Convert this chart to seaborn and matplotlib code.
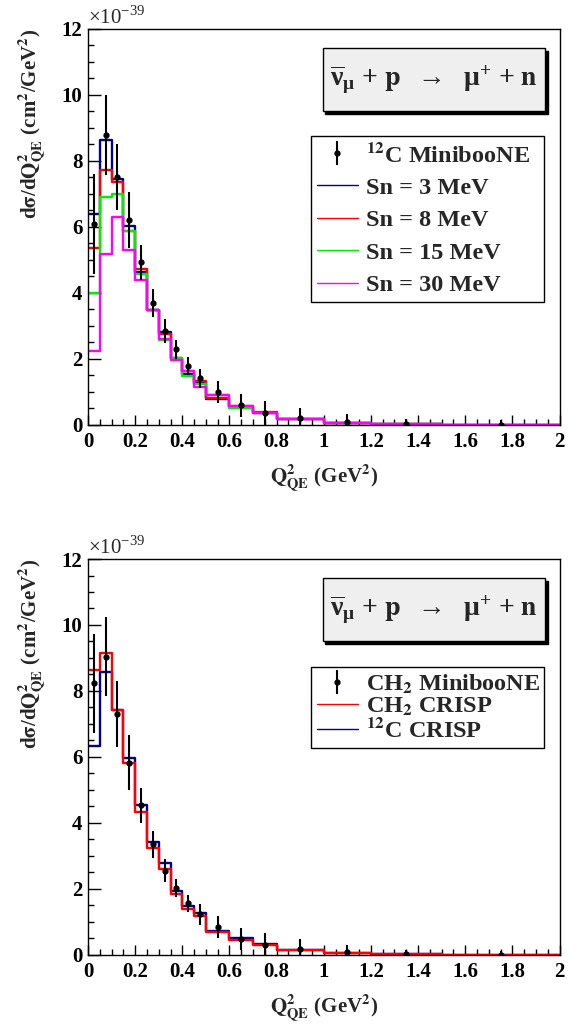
import numpy as np
import pandas as pd
import seaborn as sns
import matplotlib.pyplot as plt
from matplotlib.ticker import MultipleLocator, FuncFormatter
from matplotlib.patches import Rectangle

# bin edges of Q2_QE (GeV^2)
edges = [0, 0.05, 0.10, 0.15, 0.20, 0.25, 0.30, 0.35, 0.40, 0.45, 0.50,
         0.60, 0.70, 0.80, 1.00, 1.20, 1.50, 2.00]

# top panel: 12C MiniBooNE data (x1e-39 cm2/GeV2)
c12_data = [6.09, 8.79, 7.50, 6.21, 4.93, 3.70, 2.84, 2.29, 1.79, 1.41,
            0.99, 0.59, 0.37, 0.20, 0.08, 0.02, 0.01]
c12_err = [1.52, 1.20, 1.00, 0.84, 0.53, 0.42, 0.36, 0.28, 0.27, 0.30,
           0.33, 0.35, 0.36, 0.30, 0.25, 0.16, 0.14]

# CRISP for different separation energies
sn3 = [6.39, 8.63, 7.45, 6.04, 4.65, 3.48, 2.83, 2.02, 1.54, 1.28,
       0.78, 0.54, 0.37, 0.18, 0.07, 0.02, 0.005]
sn8 = [5.37, 7.73, 7.35, 5.89, 4.72, 3.48, 2.76, 1.99, 1.65, 1.33,
       0.81, 0.56, 0.38, 0.18, 0.07, 0.02, 0.005]
sn15 = [4.01, 6.90, 7.01, 5.89, 4.57, 3.48, 2.56, 2.02, 1.48, 1.24,
        0.91, 0.51, 0.37, 0.18, 0.07, 0.02, 0.005]
sn30 = [2.25, 5.17, 6.29, 5.30, 4.39, 3.48, 2.60, 1.97, 1.65, 1.16,
        0.91, 0.56, 0.37, 0.18, 0.07, 0.02, 0.005]

# bottom panel: CH2 MiniBooNE data
ch2_data = [8.23, 9.04, 7.30, 5.83, 4.53, 3.35, 2.56, 2.02, 1.57, 1.23,
            0.84, 0.48, 0.30, 0.18, 0.08, 0.02, 0.01]
ch2_err = [1.50, 1.20, 1.00, 0.84, 0.53, 0.42, 0.36, 0.27, 0.26, 0.31,
           0.33, 0.33, 0.36, 0.30, 0.23, 0.12, 0.11]
ch2_crisp = [8.64, 9.14, 7.42, 5.81, 4.34, 3.25, 2.60, 1.85, 1.38, 1.18,
             0.71, 0.45, 0.30, 0.15, 0.07, 0.02, 0.005]
c12_crisp = [6.34, 8.59, 7.42, 5.98, 4.53, 3.41, 2.78, 1.95, 1.48, 1.26,
             0.74, 0.51, 0.32, 0.16, 0.07, 0.02, 0.005]

top_models = [("Sn = 3 MeV", sn3, "#000099"),
              ("Sn = 8 MeV", sn8, "#ff0000"),
              ("Sn = 15 MeV", sn15, "#00ee00"),
              ("Sn = 30 MeV", sn30, "#ff00ff")]
bot_models = [(r"$^{12}$C CRISP", c12_crisp, "#000099"),
              (r"CH$_{2}$ CRISP", ch2_crisp, "#ff0000")]

centers = 0.5 * (np.array(edges[:-1]) + np.array(edges[1:]))

sns.set_style("ticks")
plt.rcParams["font.family"] = ["Liberation Serif", "DejaVu Serif"]
plt.rcParams["font.weight"] = "bold"
plt.rcParams["axes.labelweight"] = "bold"
plt.rcParams["mathtext.fontset"] = "stix"
plt.rcParams["mathtext.default"] = "bf"

fig = plt.figure(figsize=(5.76, 10.24), dpi=100)
ax_top = fig.add_axes([0.1528, 0.585, 0.8186, 0.3867])
ax_bot = fig.add_axes([0.1528, 0.0674, 0.8186, 0.3867])


def draw_panel(ax, data, err, data_label, models, legend_order, leg_box,
               leg_spacing):
    for label, vals, col in models:
        sns.histplot(x=centers, weights=vals, bins=edges, element="step",
                     fill=False, color=col, lw=1.7, ax=ax, label=label)
    ax.errorbar(centers, data, yerr=err, fmt="o", color="black", ms=3.5,
                elinewidth=1.5, capsize=0, label=data_label, zorder=5)

    ax.set_xlim(0, 2)
    ax.set_ylim(0, 12)
    ax.xaxis.set_major_locator(MultipleLocator(0.2))
    ax.xaxis.set_minor_locator(MultipleLocator(0.05))
    ax.yaxis.set_major_locator(MultipleLocator(2))
    ax.yaxis.set_minor_locator(MultipleLocator(0.5))
    ax.xaxis.set_major_formatter(FuncFormatter(lambda v, p: f"{v:g}"))
    ax.tick_params(axis="both", which="both", direction="in",
                   labelsize=15, width=1, colors="black")
    ax.tick_params(axis="y", which="major", length=9, pad=4)
    ax.tick_params(axis="y", which="minor", length=4.5)
    ax.tick_params(axis="x", which="major", length=7.5, pad=5)
    ax.tick_params(axis="x", which="minor", length=4.5)
    for s in ax.spines.values():
        s.set_linewidth(1)
        s.set_color("black")

    ax.set_xlabel(r"$Q^{2}_{QE}$ (GeV$^{2}$)", fontsize=15, labelpad=8)
    ax.set_ylabel(r"d$\sigma$/d$Q^{2}_{QE}$ (cm$^{2}$/GeV$^{2}$)",
                  fontsize=15, loc="top", labelpad=10)
    ax.text(0.0, 1.0, r"$\mathregular{\times}$10$^{\mathregular{-39}}$",
            transform=ax.transAxes, fontsize=15, fontweight="normal",
            ha="left", va="bottom")

    # reaction box with shadow
    x0, x1, y0, y1 = 0.498, 0.969, 0.793, 0.952
    ax.add_patch(Rectangle((x0 + 0.0055, y0 - 0.0065), x1 - x0, y1 - y0,
                           transform=ax.transAxes, color="black", zorder=6))
    ax.add_patch(Rectangle((x0, y0), x1 - x0, y1 - y0, transform=ax.transAxes,
                           facecolor="#efefef", edgecolor="black", lw=1, zorder=7))
    ax.text((x0 + x1) / 2, (y0 + y1) / 2,
            r"$\mathregular{\overline{\nu}_{\mu}}$ + $\mathbf{p}$  $\mathregular{\rightarrow}$  $\mathregular{\mu^{+}}$ + $\mathbf{n}$",
            transform=ax.transAxes, ha="center", va="center", fontsize=20,
            zorder=8)

    handles, labels = ax.get_legend_handles_labels()
    order = [labels.index(l) for l in legend_order]
    leg = ax.legend([handles[i] for i in order], [labels[i] for i in order],
                    loc="center", bbox_to_anchor=leg_box, mode="expand",
                    fontsize=17.5, frameon=True, fancybox=False,
                    edgecolor="black", framealpha=1, handlelength=1.7,
                    handletextpad=0.35, borderpad=0.25,
                    labelspacing=leg_spacing, borderaxespad=0)
    leg.get_frame().set_linewidth(1)
    leg.set_zorder(9)
    for lh in leg.get_lines():
        if lh.get_marker() in (None, "None", ""):
            lh.set_linewidth(1)


draw_panel(ax_top, c12_data, c12_err, r"$^{12}$C MinibooNE", top_models,
           [r"$^{12}$C MinibooNE", "Sn = 3 MeV", "Sn = 8 MeV", "Sn = 15 MeV",
            "Sn = 30 MeV"],
           (0.472, 0.303, 0.495, 0.432), 0.43)
draw_panel(ax_bot, ch2_data, ch2_err, r"CH$_{2}$ MinibooNE", bot_models,
           [r"CH$_{2}$ MinibooNE", r"CH$_{2}$ CRISP", r"$^{12}$C CRISP"],
           (0.472, 0.520, 0.495, 0.210), 0.0)

fig.savefig("out.png", dpi=100)
